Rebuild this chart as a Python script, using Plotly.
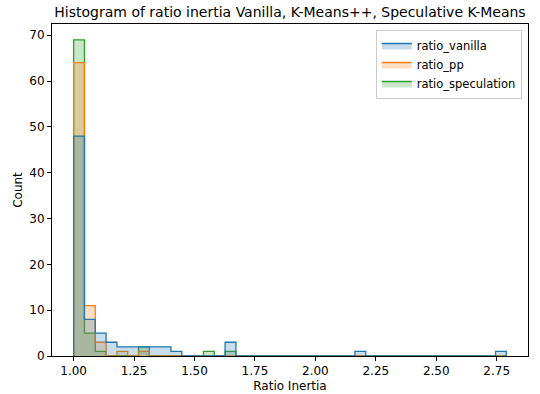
import plotly.graph_objects as go

# Histogram definition (40 bins between min and max ratio)
bin_start = 1.0
bin_end = 2.79
n_bins = 40

series_names = ["ratio_vanilla", "ratio_pp", "ratio_speculation"]
colors = ["#1f77b4", "#ff7f0e", "#2ca02c"]
fills = ["rgba(31,119,180,0.25)", "rgba(255,127,14,0.25)", "rgba(44,160,44,0.25)"]

vanilla_counts = [48, 8, 5, 3, 2, 2, 2, 2, 2, 1,
                  0, 0, 0, 0, 3, 0, 0, 0, 0, 0,
                  0, 0, 0, 0, 0, 0, 1, 0, 0, 0,
                  0, 0, 0, 0, 0, 0, 0, 0, 0, 1]
pp_counts = [64, 11, 3, 0, 1, 0, 1, 0, 0, 0,
             0, 0, 0, 0, 0, 0, 0, 0, 0, 0,
             0, 0, 0, 0, 0, 0, 0, 0, 0, 0,
             0, 0, 0, 0, 0, 0, 0, 0, 0, 0]
speculation_counts = [69, 5, 1, 0, 0, 0, 2, 0, 0, 0,
                      0, 0, 1, 0, 1, 0, 0, 0, 0, 0,
                      0, 0, 0, 0, 0, 0, 0, 0, 0, 0,
                      0, 0, 0, 0, 0, 0, 0, 0, 0, 0]

x_ticks = [1.00, 1.25, 1.50, 1.75, 2.00, 2.25, 2.50, 2.75]
y_ticks = [0, 10, 20, 30, 40, 50, 60, 70]

width = (bin_end - bin_start) / n_bins
edges = [bin_start + i * width for i in range(n_bins + 1)]

all_counts = [vanilla_counts, pp_counts, speculation_counts]

fig = go.Figure()
# draw in reverse order so first series is on top
for idx in [2, 1, 0]:
    c = all_counts[idx]
    xs = [edges[0]] + edges + [edges[-1]]
    ys = [0] + c + [c[-1]] + [0]
    fig.add_trace(go.Scatter(
        x=xs, y=ys, mode="lines", line=dict(shape="hv", color=colors[idx], width=1.3),
        fill="tozeroy", fillcolor=fills[idx], showlegend=False, hoverinfo="skip"))

# legend-only entries
for idx in range(3):
    fig.add_trace(go.Scatter(
        x=[None], y=[None], name=series_names[idx], mode="lines",
        fill="toself", fillcolor=fills[idx],
        line=dict(color=colors[idx], width=1.3)))

xmin = bin_start - 0.05 * (bin_end - bin_start)
xmax = bin_end + 0.05 * (bin_end - bin_start)
ymax = max(max(c) for c in all_counts) * 1.05

font = "DejaVu Sans"
fig.update_layout(
    width=540, height=394,
    margin=dict(l=52, r=12, t=24, b=38, autoexpand=False),
    paper_bgcolor="white", plot_bgcolor="white",
    font=dict(family=font, size=12, color="black"),
    title=dict(text="Histogram of ratio inertia Vanilla, K-Means++, Speculative K-Means",
               x=0.5, xref="paper", xanchor="center",
               y=1 - 12 / 394, yref="container", yanchor="middle",
               font=dict(size=14, family=font, color="black"), automargin=False),
    showlegend=True,
    legend=dict(x=0.987, y=0.982, xanchor="right", yanchor="top",
                bgcolor="rgba(255,255,255,0.8)", bordercolor="#cccccc", borderwidth=1,
                font=dict(size=11.5, family=font), traceorder="normal",
                itemwidth=30, tracegroupgap=0),
    xaxis=dict(range=[xmin, xmax], tickvals=x_ticks, tickformat=".2f",
               showgrid=False, zeroline=False, showline=True, linecolor="black",
               linewidth=1, mirror=True, ticks="outside", ticklen=4, tickcolor="black",
               automargin=False, tickfont=dict(size=12),
               title=dict(text="Ratio Inertia", font=dict(size=12), standoff=4)),
    yaxis=dict(range=[0, ymax], tickvals=y_ticks,
               showgrid=False, zeroline=False, showline=True, linecolor="black",
               linewidth=1, mirror=True, ticks="outside", ticklen=4, tickcolor="black",
               automargin=False, tickfont=dict(size=12),
               title=dict(text="Count", font=dict(size=12), standoff=4)),
)

fig.write_html("out.html")
